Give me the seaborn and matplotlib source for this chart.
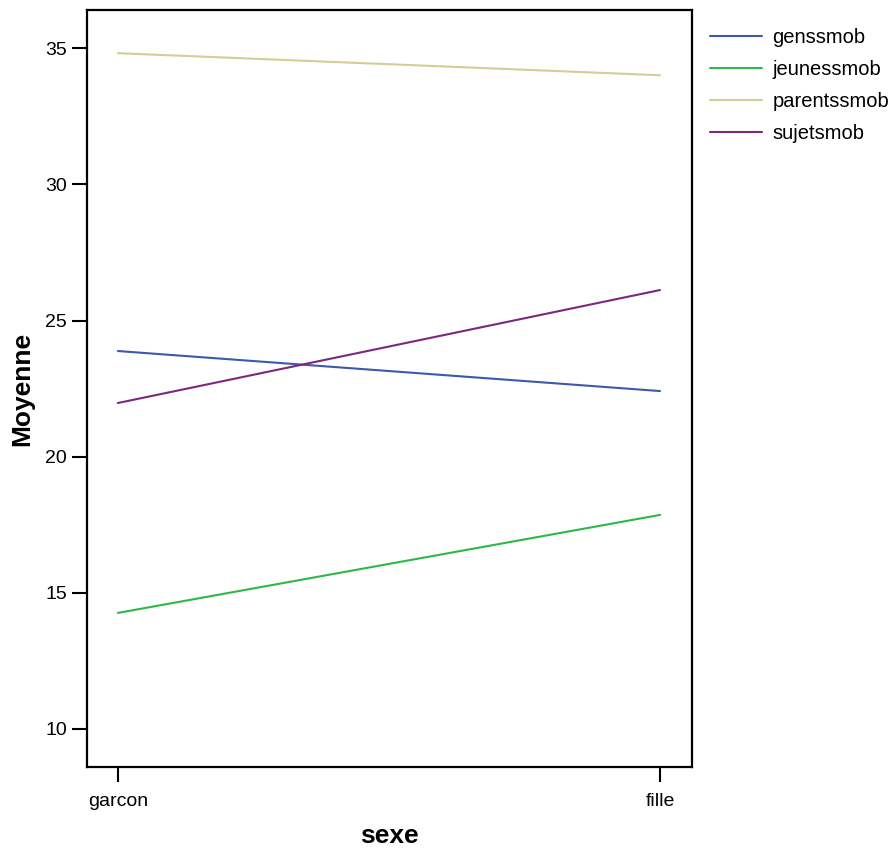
import numpy as np
import pandas as pd
import matplotlib
matplotlib.use('Agg')
from matplotlib import pyplot as plt
import seaborn as sns

sexe = ['garcon', 'fille']
genssmob = [23.88, 22.41]
jeunessmob = [14.26, 17.86]
parentssmob = [34.82, 34.01]
sujetsmob = [21.97, 26.12]
series_names = ['genssmob', 'jeunessmob', 'parentssmob', 'sujetsmob']
colors = ['#3E58AC', '#2EB848', '#D3CE97', '#7C287D']

sns.set_style('white')
plt.rcParams['font.family'] = ['Liberation Sans', 'DejaVu Sans']
plt.rcParams['text.color'] = 'black'
plt.rcParams['axes.labelcolor'] = 'black'

df = pd.DataFrame({
    'sexe': sexe * 4,
    'Moyenne': genssmob + jeunessmob + parentssmob + sujetsmob,
    'serie': [n for n in series_names for _ in sexe],
})

fig = plt.figure(figsize=(8.92, 8.48), dpi=100)
ax = fig.add_axes([0.0975, 0.0955, 0.6783, 0.8925])

sns.lineplot(data=df, x='sexe', y='Moyenne', hue='serie',
             hue_order=series_names, palette=colors, linewidth=1.5, ax=ax)

ax.set_xlim(-0.057, 1.059)
ax.set_ylim(8.6, 36.4)
ax.set_yticks([10, 15, 20, 25, 30, 35])
for sp in ax.spines.values():
    sp.set_linewidth(1.6)
    sp.set_color('black')
ax.tick_params(axis='both', length=11, width=1.5, direction='out',
               labelsize=14, colors='black', left=True, bottom=True)
ax.tick_params(axis='y', pad=3.5)
ax.tick_params(axis='x', pad=8)
ax.set_xlabel('sexe', fontsize=19, fontweight='bold', labelpad=10)
ax.set_ylabel('Moyenne', fontsize=19, fontweight='bold', labelpad=8)

ax.legend(loc='upper left', bbox_to_anchor=(1.0, 1.0), frameon=False,
          fontsize=14.5, handlelength=2.6, handletextpad=0.5, labelspacing=0.64,
          title=None)

fig.savefig('out.png', dpi=100)
